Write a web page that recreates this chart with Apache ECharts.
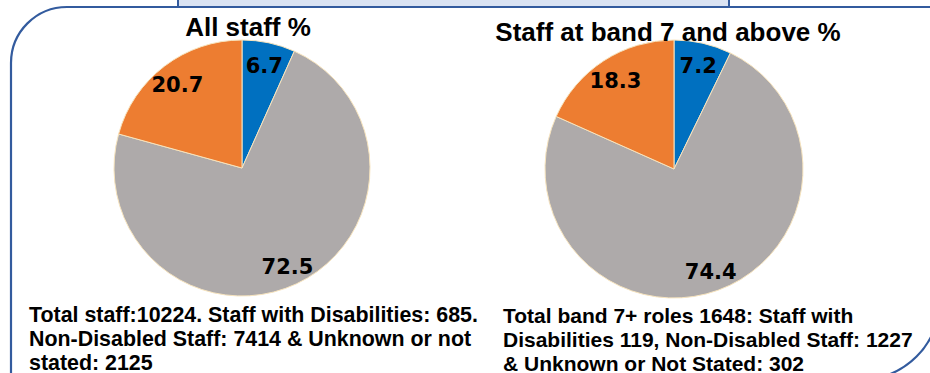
<!DOCTYPE html>
<html>
<head>
<meta charset="utf-8">
<script src="https://cdn.jsdelivr.net/npm/echarts@6/dist/echarts.min.js"></script>
<style>
html,body{margin:0;padding:0;background:#fff;}
#chart{width:930px;height:373px;}
</style>
</head>
<body>
<div id="chart"></div>
<script>
const categories = ['Staff with Disabilities', 'Non-Disabled Staff', 'Unknown or Not Stated'];
const allStaffPct = [6.7, 72.5, 20.7];
const band7Pct = [7.2, 74.4, 18.3];
const sliceColors = ['#0070C0', '#AEAAAA', '#ED7D31'];
const chartTitles = ['All staff %', 'Staff at band 7 and above %'];
const footnotes = [
  'Total staff:10224. Staff with Disabilities: 685.\nNon-Disabled Staff: 7414 & Unknown or not\nstated: 2125',
  'Total band 7+ roles 1648: Staff with\nDisabilities 119, Non-Disabled Staff: 1227\n& Unknown or Not Stated: 302'
];

const lineBlue = '#335B9E';
const pies = [
  {values: allStaffPct, center: [242, 168], r: 128},
  {values: band7Pct, center: [674, 169], r: 129}
];

function toData(vals, visible) {
  return vals.map((v, i) => ({
    name: categories[i],
    value: v,
    itemStyle: visible ? {color: sliceColors[i]} : {color: 'rgba(0,0,0,0)'}
  }));
}

const series = [];
pies.forEach(p => {
  series.push({
    type: 'pie',
    center: p.center,
    radius: [0, p.r],
    startAngle: 90,
    clockwise: true,
    label: {show: false},
    labelLine: {show: false},
    emphasis: {disabled: true},
    itemStyle: {borderColor: '#F7E4BE', borderWidth: 1},
    data: toData(p.values, true)
  });
  series.push({
    type: 'pie',
    center: p.center,
    radius: [p.r * 0.62, p.r],
    startAngle: 90,
    clockwise: true,
    silent: true,
    z: 5,
    label: {
      show: true,
      position: 'inside',
      formatter: '{c}',
      fontFamily: 'DejaVu Sans',
      fontWeight: 'bold',
      fontSize: 21,
      color: '#000',
      offset: [0, 2]
    },
    labelLine: {show: false},
    emphasis: {disabled: true},
    itemStyle: {borderWidth: 0},
    data: toData(p.values, false)
  });
});

const chart = echarts.init(document.getElementById('chart'), null, {renderer: 'svg'});
chart.setOption({
  animation: false,
  backgroundColor: '#fff',
  graphic: [
    {type: 'rect', z: 0, shape: {x: 11, y: 7, width: 1100, height: 600, r: 56},
     style: {fill: 'none', stroke: lineBlue, lineWidth: 2.2}},
    {type: 'rect', z: 1, shape: {x: 178, y: -6, width: 551, height: 13},
     style: {fill: '#DAE3F3', stroke: lineBlue, lineWidth: 2}},
    {type: 'arc', z: 1, shape: {cx: 860, cy: 300, r: 80, startAngle: 0, endAngle: Math.PI / 2},
     style: {fill: 'none', stroke: lineBlue, lineWidth: 2.2}},
    {type: 'text', z: 10, x: 248, y: 27,
     style: {text: chartTitles[0], font: 'bold 26px "Liberation Sans", Arial, sans-serif', fill: '#000', align: 'center', verticalAlign: 'middle'}},
    {type: 'text', z: 10, x: 668, y: 32,
     style: {text: chartTitles[1], font: 'bold 26px "Liberation Sans", Arial, sans-serif', fill: '#000', align: 'center', verticalAlign: 'middle'}},
    {type: 'text', z: 10, x: 29, y: 303,
     style: {text: footnotes[0], font: 'bold 21.4px "Liberation Sans", Arial, sans-serif', lineHeight: 24, fill: '#000', align: 'left', verticalAlign: 'top'}},
    {type: 'text', z: 10, x: 503, y: 303,
     style: {text: footnotes[1], font: 'bold 21px "Liberation Sans", Arial, sans-serif', lineHeight: 24, fill: '#000', align: 'left', verticalAlign: 'top'}}
  ],
  series: series
});
</script>
</body>
</html>
